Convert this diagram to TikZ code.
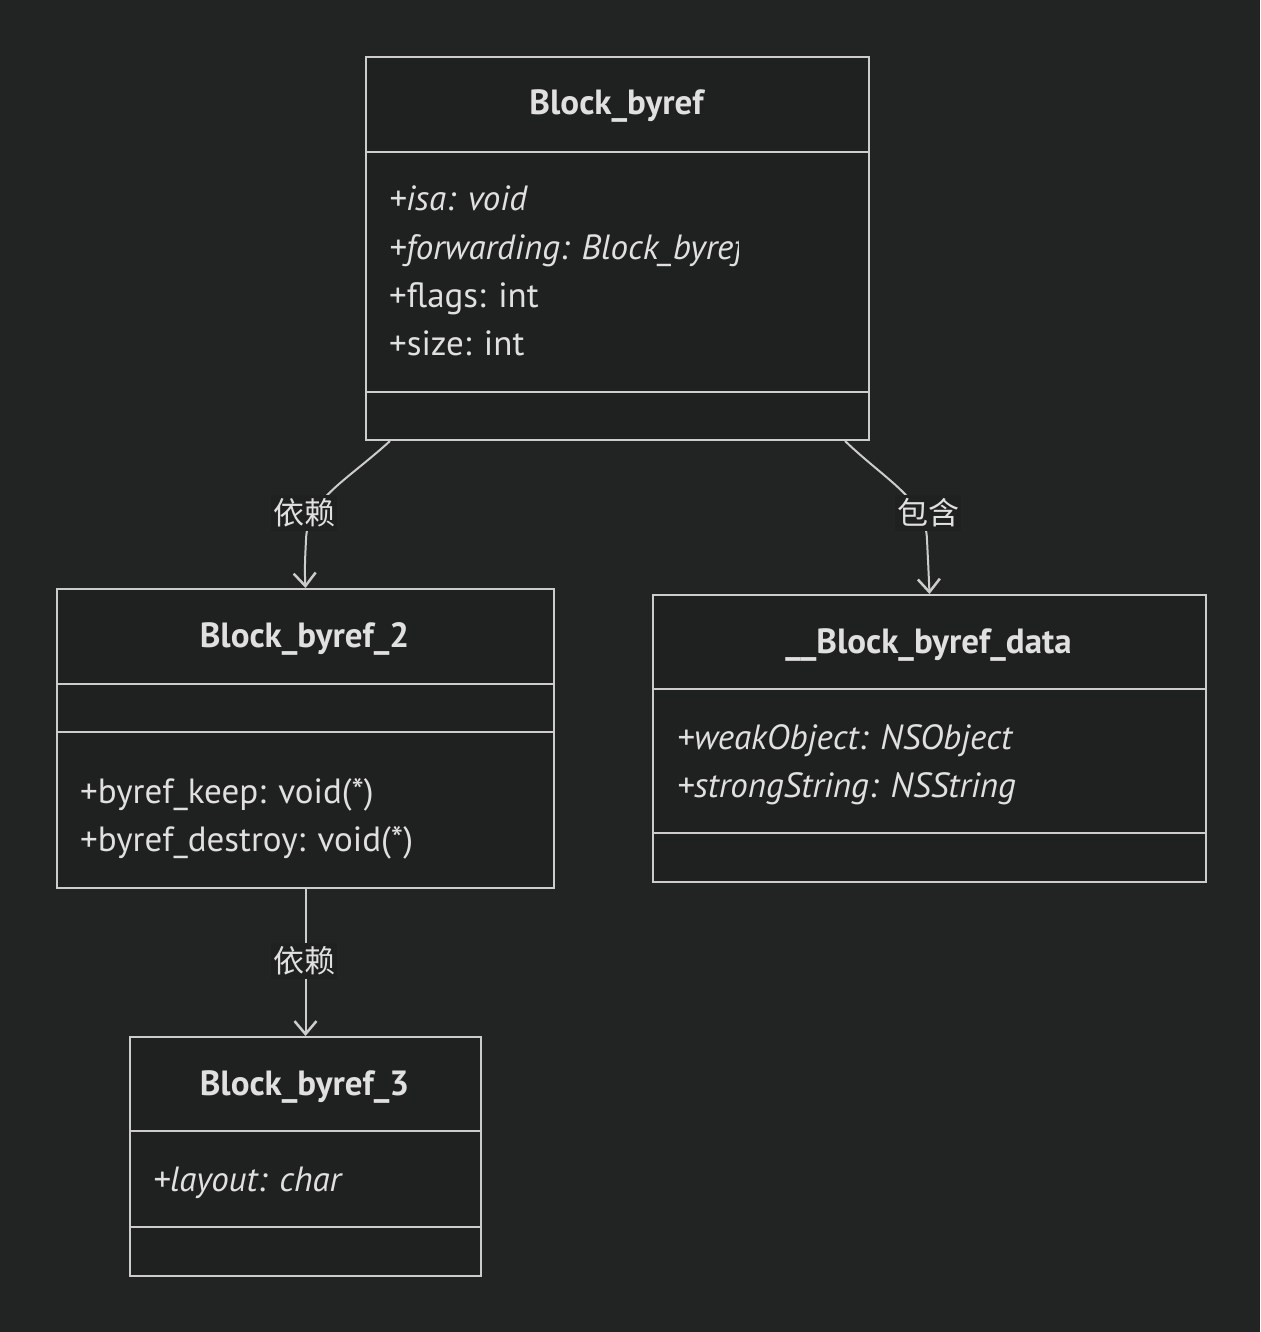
\documentclass[tikz,border=0pt]{standalone}
\usepackage{fontspec}
\setmainfont{PT Sans}
\newfontfamily\cjk{Noto Sans CJK SC}
\usetikzlibrary{arrows.meta,calc}
\definecolor{bgc}{HTML}{222323}
\definecolor{boxc}{HTML}{1F2020}
\definecolor{linec}{HTML}{CCCCCC}
\definecolor{txtc}{HTML}{E0E0E0}
\tikzset{
  cls/.style={draw=linec, fill=boxc, line width=2pt, inner sep=0pt, anchor=north west},
  divider/.style={draw=linec, line width=2pt},
  titletext/.style={font=\fontsize{35}{40}\selectfont\bfseries, text=txtc, anchor=base, inner sep=0pt},
  attr/.style={font=\fontsize{35}{40}\selectfont, text=txtc, anchor=base west, inner sep=0pt},
  attri/.style={attr, font=\fontsize{35}{40}\selectfont\itshape},
  edge/.style={draw=linec, line width=2pt, -{Straight Barb[length=13pt,width=22pt,line width=2.5pt]}},
  elabel/.style={font=\cjk\fontsize{31}{36}\selectfont, text=txtc, fill=boxc, inner xsep=2pt, inner ysep=4pt}
}
\begin{document}
\begin{tikzpicture}[x=1pt,y=-1pt]
\fill[bgc] (0,0) rectangle (1260,1332);
\useasboundingbox (0,0) rectangle (1260,1332);

% Block_byref
\node[cls, minimum width=503pt, minimum height=383pt] (b1) at (365,56) {};
\draw[divider] (365,152) -- (868,152);
\draw[divider] (365,392) -- (868,392);
\node[titletext] (t1) at (616.5,115) {Block\_byref};
\node[attri] (a11) at (389,211) {+isa: void};
\begin{scope}
  \clip (365,215) rectangle (738,275);
  \node[attri] (a12) at (389,259) {+forwarding: Block\_byref};
\end{scope}
\node[attr] (a13) at (389,307) {+flags: int};
\node[attr] (a14) at (389,355) {+size: int};

% Block_byref_2
\node[cls, minimum width=497pt, minimum height=299pt] (b2) at (56,588) {};
\draw[divider] (56,684) -- (553,684);
\draw[divider] (56,732) -- (553,732);
\node[titletext] (t2) at (304.5,647) {Block\_byref\_2};
\node[attr] (a21) at (80,803) {+byref\_keep: void(*)};
\node[attr] (a22) at (80,851) {+byref\_destroy: void(*)};

% Block_byref_3
\node[cls, minimum width=351pt, minimum height=239pt] (b3) at (129,1036) {};
\draw[divider] (129,1131) -- (480,1131);
\draw[divider] (129,1227) -- (480,1227);
\node[titletext] (t3) at (304.5,1095) {Block\_byref\_3};
\node[attri] (a31) at (153,1191) {+layout: char};

% __Block_byref_data
\node[cls, minimum width=553pt, minimum height=287pt] (b4) at (652,594) {};
\draw[divider] (652,689) -- (1205,689);
\draw[divider] (652,833) -- (1205,833);
\node[titletext] (t4) at (928.5,653) {\_\_Block\_byref\_data};
\node[attri] (a41) at (677,749) {+weakObject: NSObject};
\node[attri] (a42) at (677,797) {+strongString: NSString};

% edges
\draw[edge] ($(b1.south west)+(25,0)$) .. controls (345,482) and (307,500) .. (306,540)
  .. controls (305,560) and (304.5,570) .. (b2.north);
\draw[edge] ($(b1.south east)+(-25,0)$) .. controls (888,482) and (926,500) .. (927,540)
  .. controls (928,560) and (928.5,570) .. (b4.north);
\draw[edge] (b2.south) -- (b3.north);

\node[elabel] (l1) at (304,513) {依赖};
\node[elabel] (l2) at (928,513) {包含};
\node[elabel] (l3) at (304,961) {依赖};
\end{tikzpicture}
\end{document}
